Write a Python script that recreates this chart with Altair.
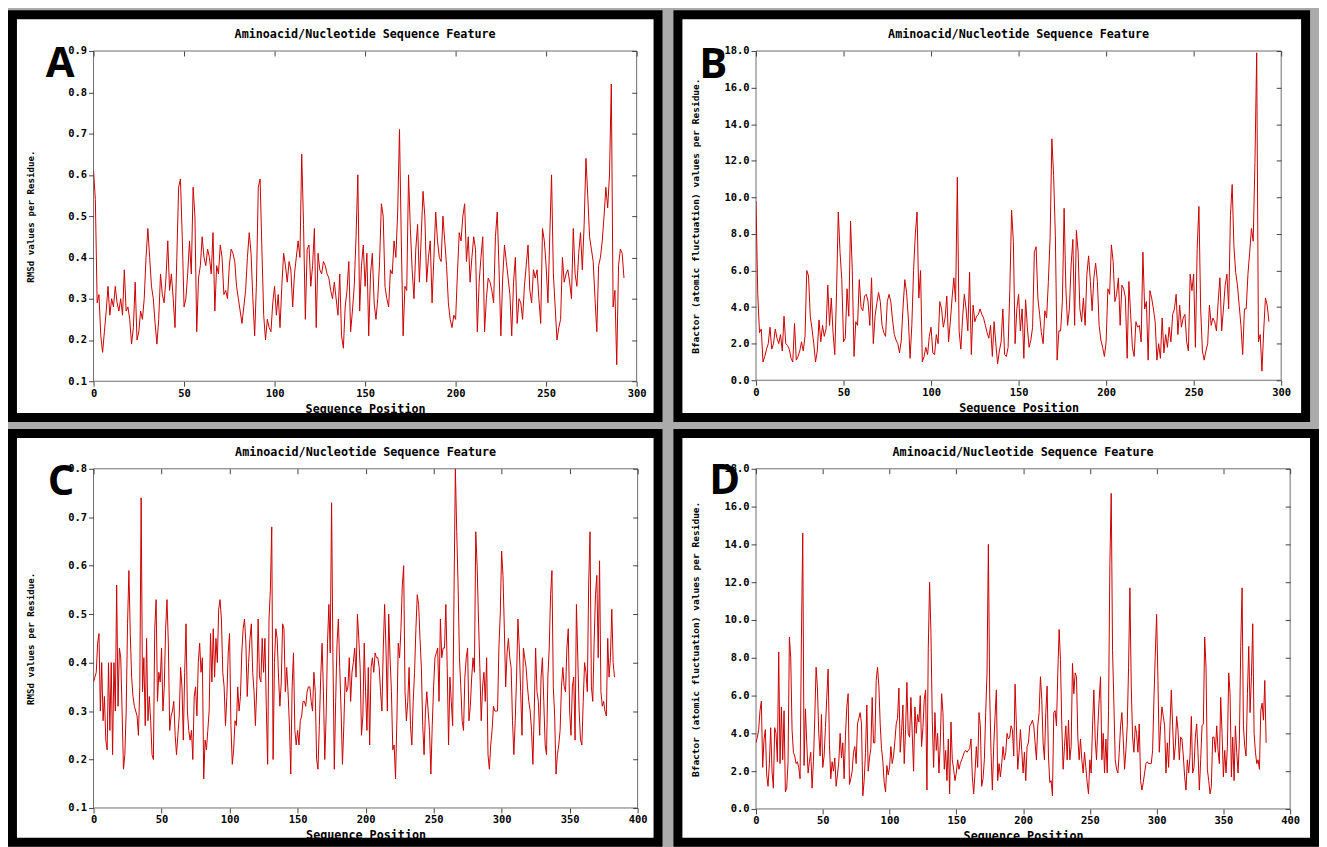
import altair as alt
import pandas as pd

# ---------------- data ----------------
A_RMSD = [
    0.61, 0.54, 0.29, 0.31, 0.21, 0.17, 0.22, 0.27, 0.33, 0.26,
    0.30, 0.28, 0.33, 0.29, 0.27, 0.30, 0.26, 0.37, 0.27, 0.28,
    0.25, 0.19, 0.23, 0.34, 0.20, 0.22, 0.27, 0.25, 0.30, 0.40,
    0.47, 0.40, 0.33, 0.30, 0.24, 0.19, 0.25, 0.36, 0.31, 0.29,
    0.35, 0.44, 0.32, 0.36, 0.30, 0.23, 0.40, 0.57, 0.59, 0.45,
    0.28, 0.30, 0.36, 0.44, 0.36, 0.57, 0.50, 0.22, 0.35, 0.38,
    0.45, 0.40, 0.38, 0.42, 0.40, 0.36, 0.46, 0.27, 0.38, 0.36,
    0.43, 0.40, 0.31, 0.32, 0.30, 0.38, 0.42, 0.41, 0.39, 0.33,
    0.30, 0.27, 0.24, 0.28, 0.32, 0.40, 0.46, 0.41, 0.30, 0.21,
    0.34, 0.57, 0.59, 0.42, 0.26, 0.20, 0.25, 0.23, 0.22, 0.29,
    0.33, 0.26, 0.31, 0.23, 0.33, 0.41, 0.38, 0.34, 0.39, 0.37,
    0.28, 0.36, 0.40, 0.44, 0.40, 0.65, 0.48, 0.25, 0.42, 0.43,
    0.33, 0.38, 0.47, 0.23, 0.41, 0.37, 0.36, 0.39, 0.38, 0.36,
    0.35, 0.32, 0.30, 0.34, 0.30, 0.26, 0.36, 0.21, 0.18, 0.28,
    0.32, 0.39, 0.22, 0.27, 0.33, 0.45, 0.60, 0.27, 0.38, 0.43,
    0.33, 0.41, 0.21, 0.36, 0.41, 0.29, 0.25, 0.30, 0.39, 0.53,
    0.50, 0.33, 0.30, 0.28, 0.37, 0.36, 0.44, 0.40, 0.51, 0.71,
    0.44, 0.21, 0.33, 0.32, 0.60, 0.47, 0.37, 0.30, 0.42, 0.48,
    0.34, 0.45, 0.56, 0.50, 0.34, 0.40, 0.44, 0.29, 0.40, 0.51,
    0.44, 0.40, 0.39, 0.50, 0.44, 0.38, 0.29, 0.25, 0.23, 0.26,
    0.25, 0.36, 0.46, 0.44, 0.50, 0.53, 0.39, 0.45, 0.34, 0.40,
    0.45, 0.42, 0.22, 0.34, 0.40, 0.45, 0.22, 0.30, 0.35, 0.34,
    0.32, 0.29, 0.45, 0.51, 0.37, 0.21, 0.35, 0.43, 0.39, 0.35,
    0.31, 0.21, 0.34, 0.40, 0.24, 0.30, 0.29, 0.25, 0.33, 0.38,
    0.43, 0.32, 0.29, 0.37, 0.35, 0.37, 0.30, 0.24, 0.47, 0.44,
    0.38, 0.29, 0.45, 0.60, 0.36, 0.28, 0.20, 0.23, 0.25, 0.40,
    0.34, 0.36, 0.37, 0.34, 0.30, 0.47, 0.36, 0.33, 0.41, 0.46,
    0.37, 0.48, 0.64, 0.55, 0.45, 0.42, 0.39, 0.30, 0.22, 0.38,
    0.40, 0.44, 0.50, 0.57, 0.52, 0.60, 0.82, 0.28, 0.32, 0.14,
    0.38, 0.42, 0.41, 0.35,
]

B_BFACTOR = [
    9.8, 4.7, 2.6, 2.8, 1.0, 1.3, 1.7, 2.0, 2.9, 1.7,
    2.0, 2.8, 2.3, 2.0, 2.5, 1.6, 3.5, 2.0, 1.9, 1.7,
    1.2, 1.0, 3.1, 1.1, 1.3, 1.6, 2.1, 1.6, 2.4, 6.0,
    5.7, 3.5, 2.8, 2.0, 1.0, 1.6, 3.3, 2.1, 3.0, 2.4,
    2.8, 5.2, 3.0, 4.5, 2.6, 1.4, 4.8, 9.2, 7.0, 5.5,
    2.1, 2.3, 5.0, 3.5, 8.7, 6.0, 1.3, 3.2, 3.0, 5.5,
    4.0, 3.8, 4.6, 4.7, 4.3, 3.0, 5.6, 2.0, 3.5, 4.2,
    4.8, 4.3, 3.0, 2.6, 2.4, 4.3, 4.7, 4.3, 3.3, 2.5,
    2.2, 2.0, 1.5, 2.2, 4.0, 5.5, 4.8, 3.4, 1.2, 3.0,
    6.0, 8.0, 9.2, 4.5, 6.0, 1.0, 1.3, 1.8, 1.4, 2.4,
    2.9, 1.5, 1.4, 2.5, 2.0, 4.3, 3.9, 2.9, 3.4, 4.6,
    2.1, 3.2, 4.5, 5.6, 4.3, 11.1, 2.7, 1.7, 3.4, 4.7,
    3.9, 2.7, 5.9, 1.4, 4.1, 3.2, 3.5, 3.6, 3.9, 3.6,
    3.4, 3.0, 2.6, 2.3, 3.0, 1.3, 3.2, 2.0, 0.9, 1.6,
    2.1, 3.9, 1.4, 1.3, 1.8, 5.0, 9.3, 7.6, 2.0, 3.9,
    4.7, 2.7, 3.9, 1.2, 4.4, 2.9, 1.8, 2.2, 2.9, 7.0,
    7.3, 4.5, 3.6, 2.6, 2.0, 3.8, 3.4, 5.4, 7.8, 13.2,
    11.2, 7.9, 1.1, 2.7, 2.7, 4.3, 9.4, 5.0, 3.0, 3.9,
    6.3, 7.7, 3.0, 8.2, 7.0, 3.9, 3.2, 4.5, 3.0, 5.8,
    6.8, 5.4, 3.8, 5.6, 6.4, 5.4, 3.0, 2.2, 1.8, 1.3,
    2.1, 5.0, 4.7, 7.4, 6.5, 4.3, 4.7, 5.6, 3.0, 5.2,
    5.0, 4.5, 1.2, 5.4, 3.6, 1.8, 1.3, 3.2, 2.9, 3.0,
    2.1, 7.0, 3.9, 4.3, 1.1, 4.9, 4.5, 3.9, 3.2, 1.1,
    2.0, 1.2, 3.4, 1.5, 2.5, 1.8, 2.9, 2.1, 3.6, 3.9,
    4.7, 2.5, 4.1, 2.9, 3.4, 3.6, 2.1, 1.6, 5.8, 4.9,
    5.8, 1.8, 7.2, 9.5, 3.9, 1.6, 1.1, 1.6, 2.0, 4.1,
    3.0, 3.4, 3.2, 2.7, 4.3, 5.6, 2.7, 3.9, 5.2, 5.8,
    3.9, 9.0, 10.7, 7.3, 5.9, 5.2, 4.1, 3.0, 1.4, 3.9,
    3.9, 5.8, 7.0, 8.3, 7.6, 11.9, 17.9, 2.1, 2.5, 0.5,
    2.7, 4.5, 4.1, 3.2,
]

C_RMSD = [
    0.36, 0.37, 0.38, 0.44, 0.46, 0.30, 0.40, 0.28, 0.33, 0.24,
    0.22, 0.40, 0.26, 0.40, 0.21, 0.40, 0.30, 0.56, 0.31, 0.43,
    0.41, 0.30, 0.18, 0.21, 0.30, 0.48, 0.59, 0.46, 0.37, 0.33,
    0.31, 0.30, 0.29, 0.25, 0.35, 0.74, 0.34, 0.41, 0.27, 0.45,
    0.28, 0.33, 0.28, 0.21, 0.20, 0.47, 0.53, 0.32, 0.38, 0.36,
    0.43, 0.30, 0.35, 0.47, 0.53, 0.44, 0.26, 0.29, 0.30, 0.32,
    0.25, 0.21, 0.25, 0.29, 0.39, 0.35, 0.24, 0.38, 0.48, 0.30,
    0.26, 0.24, 0.26, 0.20, 0.33, 0.35, 0.29, 0.40, 0.44, 0.38,
    0.41, 0.16, 0.24, 0.22, 0.26, 0.30, 0.46, 0.36, 0.47, 0.37,
    0.45, 0.40, 0.51, 0.53, 0.49, 0.38, 0.35, 0.27, 0.33, 0.42,
    0.46, 0.27, 0.19, 0.22, 0.28, 0.27, 0.35, 0.30, 0.33, 0.42,
    0.47, 0.49, 0.44, 0.33, 0.40, 0.45, 0.48, 0.38, 0.34, 0.27,
    0.35, 0.49, 0.37, 0.36, 0.45, 0.38, 0.45, 0.31, 0.19, 0.49,
    0.55, 0.68, 0.20, 0.40, 0.47, 0.45, 0.37, 0.31, 0.36, 0.48,
    0.47, 0.34, 0.39, 0.34, 0.27, 0.17, 0.35, 0.42, 0.26, 0.23,
    0.26, 0.23, 0.28, 0.29, 0.32, 0.32, 0.31, 0.34, 0.35, 0.35,
    0.32, 0.30, 0.38, 0.34, 0.20, 0.18, 0.27, 0.37, 0.44, 0.34,
    0.20, 0.29, 0.44, 0.52, 0.42, 0.73, 0.41, 0.18, 0.32, 0.44,
    0.49, 0.39, 0.30, 0.19, 0.27, 0.37, 0.34, 0.35, 0.41, 0.32,
    0.38, 0.40, 0.43, 0.37, 0.50, 0.45, 0.39, 0.25, 0.29, 0.44,
    0.34, 0.26, 0.39, 0.23, 0.39, 0.41, 0.38, 0.42, 0.41, 0.41,
    0.39, 0.34, 0.30, 0.43, 0.52, 0.43, 0.30, 0.50, 0.41, 0.34,
    0.22, 0.23, 0.16, 0.28, 0.44, 0.41, 0.47, 0.56, 0.60, 0.34,
    0.28, 0.32, 0.39, 0.27, 0.23, 0.32, 0.38, 0.47, 0.54, 0.52,
    0.45, 0.39, 0.27, 0.21, 0.30, 0.34, 0.30, 0.26, 0.17, 0.27,
    0.35, 0.41, 0.42, 0.43, 0.32, 0.49, 0.41, 0.43, 0.43, 0.52,
    0.39, 0.23, 0.37, 0.32, 0.27, 0.54, 0.80, 0.67, 0.56, 0.41,
    0.35, 0.28, 0.26, 0.37, 0.41, 0.43, 0.28, 0.31, 0.37, 0.41,
    0.38, 0.67, 0.60, 0.49, 0.39, 0.28, 0.35, 0.38, 0.32, 0.41,
    0.21, 0.18, 0.23, 0.26, 0.31, 0.30, 0.30, 0.30, 0.43, 0.50,
    0.63, 0.58, 0.47, 0.35, 0.42, 0.45, 0.41, 0.39, 0.28, 0.21,
    0.28, 0.37, 0.49, 0.43, 0.34, 0.25, 0.43, 0.41, 0.39, 0.35,
    0.32, 0.30, 0.26, 0.19, 0.30, 0.43, 0.34, 0.32, 0.25, 0.37,
    0.41, 0.32, 0.23, 0.21, 0.37, 0.43, 0.54, 0.59, 0.35, 0.29,
    0.17, 0.21, 0.23, 0.26, 0.35, 0.39, 0.35, 0.34, 0.43, 0.47,
    0.30, 0.25, 0.35, 0.37, 0.24, 0.52, 0.41, 0.30, 0.24, 0.23,
    0.32, 0.40, 0.38, 0.34, 0.56, 0.67, 0.35, 0.32, 0.44, 0.54,
    0.58, 0.41, 0.61, 0.34, 0.31, 0.32, 0.30, 0.29, 0.45, 0.37,
    0.41, 0.51, 0.40, 0.37,
]

D_BFACTOR = [
    3.5, 3.8, 4.2, 5.2, 5.7, 2.2, 3.7, 4.2, 1.8, 1.2,
    2.4, 4.3, 2.0, 1.1, 4.3, 4.0, 2.5, 8.3, 2.4, 5.4,
    2.6, 5.2, 0.9, 1.1, 2.5, 9.1, 8.0, 4.2, 3.0, 2.8,
    2.4, 2.5, 2.2, 1.6, 9.0, 14.6, 2.3, 5.3, 3.5, 1.9,
    2.5, 3.0, 1.1, 2.5, 4.8, 7.5, 6.4, 4.0, 2.8, 5.0,
    2.2, 2.8, 4.3, 5.9, 7.4, 3.4, 1.6, 2.5, 2.0, 2.7,
    1.2, 1.8, 2.5, 4.0, 2.7, 3.5, 1.6, 3.9, 5.4, 6.1,
    1.3, 1.6, 2.0, 3.0, 3.3, 2.4, 4.5, 4.8, 5.1, 4.5,
    0.7, 1.5, 3.0, 5.5, 2.0, 2.7, 3.2, 5.9, 3.5, 3.5,
    6.8, 7.5, 6.5, 4.5, 3.2, 2.5, 1.4, 0.9, 2.3, 1.8,
    2.2, 3.3, 2.4, 2.8, 3.6, 4.5, 4.8, 6.4, 3.0, 4.1,
    5.5, 2.4, 4.2, 6.7, 4.0, 3.8, 5.9, 4.0, 2.0, 5.4,
    4.0, 5.0, 4.6, 6.0, 3.3, 4.3, 5.8, 6.3, 1.0, 8.5,
    12.0, 9.3, 4.7, 2.2, 5.1, 3.1, 4.0, 1.9, 3.5, 6.1,
    5.1, 2.1, 3.1, 1.5, 3.7, 0.8, 4.6, 2.6, 2.1, 1.5,
    1.9, 2.6, 2.1, 2.4, 2.6, 2.8, 3.0, 3.1, 3.0, 3.1,
    3.2, 3.7, 1.7, 0.8, 1.9, 3.3, 2.2, 5.1, 4.4, 1.2,
    1.6, 2.6, 5.1, 7.2, 14.0, 6.1, 3.0, 1.0, 3.3, 4.9,
    6.3, 1.5, 2.4, 1.7, 2.4, 3.3, 2.6, 3.0, 4.0, 3.7,
    3.8, 4.4, 4.2, 2.8, 6.6, 4.4, 2.1, 3.0, 4.2, 3.1,
    1.9, 3.0, 1.5, 3.3, 3.5, 4.4, 4.5, 4.7, 4.4, 3.5,
    2.6, 4.4, 5.1, 7.0, 5.8, 3.5, 2.6, 5.1, 6.5, 2.8,
    1.4, 1.5, 0.7, 5.1, 5.2, 4.4, 7.2, 9.5, 7.9, 4.4,
    2.1, 3.3, 4.4, 2.6, 4.7, 2.6, 3.3, 7.7, 6.1, 7.2,
    7.0, 3.8, 2.6, 3.7, 2.6, 1.9, 3.0, 2.2, 1.4, 0.8,
    2.6, 1.9, 4.4, 6.3, 3.7, 2.6, 4.4, 5.8, 7.0, 2.6,
    4.0, 1.9, 3.7, 1.9, 5.2, 13.0, 16.7, 8.4, 5.6, 2.6,
    2.1, 1.9, 3.0, 4.4, 5.1, 3.7, 2.1, 3.1, 4.4, 7.5,
    11.7, 6.5, 3.8, 3.0, 4.4, 4.0, 3.0, 4.5, 1.5, 1.0,
    1.4, 1.9, 2.4, 2.5, 2.4, 2.4, 2.4, 3.1, 5.8, 8.2,
    10.3, 6.8, 3.0, 4.4, 5.4, 4.9, 4.4, 1.9, 3.5, 2.2,
    4.4, 6.3, 4.4, 2.6, 3.3, 4.9, 4.2, 2.6, 3.8, 3.7,
    2.8, 1.7, 1.0, 2.6, 1.9, 2.8, 4.9, 1.9, 2.2, 3.8,
    4.5, 3.0, 1.0, 2.6, 4.4, 4.5, 9.1, 7.5, 2.1, 1.5,
    0.8, 1.2, 3.8, 3.8, 3.0, 4.4, 3.1, 2.4, 5.9, 4.0,
    1.7, 3.1, 1.9, 3.3, 7.2, 6.1, 1.7, 3.8, 1.5, 4.4,
    3.0, 1.9, 3.7, 8.6, 11.7, 4.4, 3.3, 2.8, 6.1, 8.6,
    5.1, 7.0, 9.8, 4.0, 3.0, 2.4, 2.6, 2.1, 5.2, 5.6,
    4.7, 6.8, 3.5,
]

RMSD_A_TICKS = [0.1, 0.2, 0.3, 0.4, 0.5, 0.6, 0.7, 0.8, 0.9]
RMSD_C_TICKS = [0.1, 0.2, 0.3, 0.4, 0.5, 0.6, 0.7, 0.8]
BFACTOR_TICKS = [0, 2, 4, 6, 8, 10, 12, 14, 16, 18]
X_TICKS_300 = [0, 50, 100, 150, 200, 250, 300]
X_TICKS_400 = [0, 50, 100, 150, 200, 250, 300, 350, 400]

PANEL_LETTERS = ["A", "B", "C", "D"]
MAIN_TITLE = "Aminoacid/Nucleotide Sequence Feature"
X_TITLE = "Sequence Position"
RMSD_TITLE = "RMSd values per Residue."
BF_TITLE = "Bfactor (atomic fluctuation) values per Residue."

MONO = "DejaVu Sans Mono"
RED = "#cc0000"
ONE = pd.DataFrame({"k": [0]})

AX_STYLE = dict(
    labelFont=MONO, labelFontWeight="bold", labelFontSize=10.5, labelColor="black",
    titleFont=MONO, titleFontWeight="bold", titleColor="black",
    tickColor="#444444", tickSize=5, tickWidth=1, labelPadding=2,
    labelFlush=False, domain=False, grid=False, zindex=2,
)


def panel(values, letter, y_title, y_title_size, y_domain, y_ticks, x_max,
          x_ticks, w, h, frame, letter_xy, y_title_x):
    df = pd.DataFrame({"pos": list(range(len(values))), "val": values})
    fx1, fx2, fy1, fy2 = frame
    xs = alt.Scale(domain=[0, x_max], nice=False, zero=False)
    ys = alt.Scale(domain=y_domain, nice=False, zero=False)

    outer = alt.Chart(ONE).mark_rect(color="black").encode(
        x=alt.value(fx1), x2=alt.value(fx2), y=alt.value(fy1), y2=alt.value(fy2))
    inner = alt.Chart(ONE).mark_rect(color="white").encode(
        x=alt.value(fx1 + 9), x2=alt.value(fx2 - 9),
        y=alt.value(fy1 + 9), y2=alt.value(fy2 - 9))
    border = alt.Chart(ONE).mark_rect(
        fillOpacity=0, stroke="#6e6e6e", strokeWidth=1).encode(
        x=alt.value(0), x2=alt.value(w), y=alt.value(0), y2=alt.value(h))

    line = alt.Chart(df).mark_line(color=RED, strokeWidth=1, clip=True).encode(
        x=alt.X("pos:Q", scale=xs,
                axis=alt.Axis(orient="bottom", values=x_ticks, format="d",
                              title=X_TITLE, titleX=w / 2, titleY=31,
                              titleBaseline="alphabetic", titleFontSize=11.8,
                              **AX_STYLE)),
        y=alt.Y("val:Q", scale=ys,
                axis=alt.Axis(orient="left", values=y_ticks, format=".1f",
                              title=y_title, titleX=y_title_x, titleY=h / 2,
                              titleAngle=270, titleBaseline="alphabetic",
                              titleFontSize=y_title_size, **AX_STYLE)),
    )
    mirror = alt.Chart(df).mark_line(opacity=0).encode(
        x=alt.X("pos:Q", scale=xs,
                axis=alt.Axis(orient="top", values=x_ticks, labels=False,
                              title=None, offset=-5, **AX_STYLE)),
        y=alt.Y("val:Q", scale=ys,
                axis=alt.Axis(orient="right", values=y_ticks, labels=False,
                              title=None, offset=-5, **AX_STYLE)),
    )
    title = alt.Chart(ONE).mark_text(
        text=MAIN_TITLE, font=MONO, fontWeight="bold", fontSize=11.8,
        align="center", baseline="alphabetic", color="black").encode(
        x=alt.value(w / 2), y=alt.value(-13))
    lab = alt.Chart(ONE).mark_text(
        text=letter, font="Open Sans", fontWeight="bold", fontSize=42,
        align="left", baseline="alphabetic", color="black").encode(
        x=alt.value(letter_xy[0]), y=alt.value(letter_xy[1]))

    return alt.layer(outer, inner, border, line, mirror, title, lab).resolve_axis(
        x="independent", y="independent").properties(width=w, height=h)


pA = panel(A_RMSD, PANEL_LETTERS[0], RMSD_TITLE, 9.2, [0.1, 0.9], RMSD_A_TICKS,
           300, X_TICKS_300, 546, 332, (-86, 572, -41, 373), (-48, 26), -60)
pB = panel(B_BFACTOR, PANEL_LETTERS[1], BF_TITLE, 9.6, [0, 18], BFACTOR_TICKS,
           300, X_TICKS_300, 528, 331, (-83, 557, -41, 373), (-57, 27), -58)
pC = panel(C_RMSD, PANEL_LETTERS[2], RMSD_TITLE, 9.2, [0.1, 0.8], RMSD_C_TICKS,
           400, X_TICKS_400, 547, 341, (-86, 572, -40, 380), (-46, 26), -60)
pD = panel(D_BFACTOR, PANEL_LETTERS[3], BF_TITLE, 9.6, [0, 18], BFACTOR_TICKS,
           400, X_TICKS_400, 537, 342, (-83, 566, -40, 380), (-47, 25), -58)

top = alt.hconcat(pA, pB, spacing=11)
bottom = alt.hconcat(pC, pD, spacing=11)
chart = alt.vconcat(top, bottom, spacing=7).properties(padding=0).configure(
    background="#ababab"
).configure_view(strokeWidth=0)

chart.save("out.html", embed_options={"renderer": "svg", "actions": False})
